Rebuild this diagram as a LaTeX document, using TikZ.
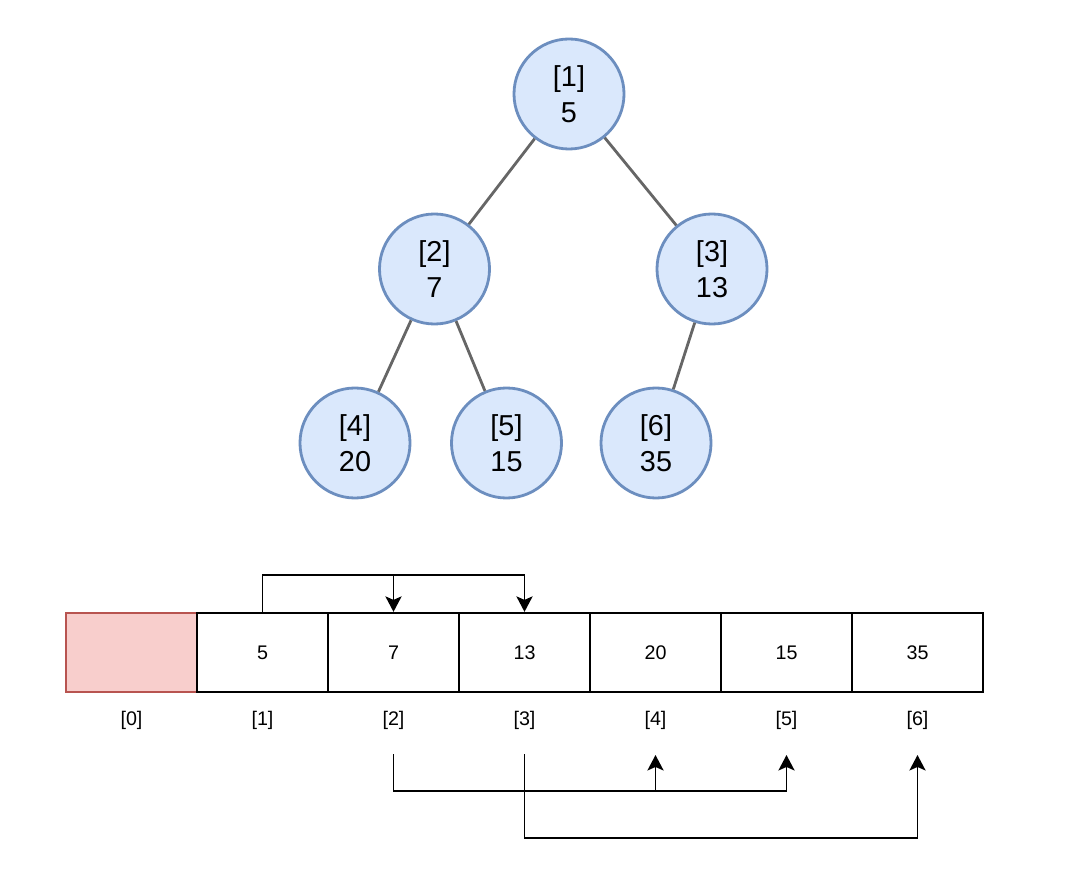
\documentclass[tikz,border=0pt]{standalone}
\usepackage{fontspec}
\setmainfont{Liberation Sans}
\usetikzlibrary{arrows.meta}

\definecolor{knotenblau}{HTML}{DAE8FC}
\definecolor{randblau}{HTML}{6C8EBF}
\definecolor{kantengrau}{HTML}{666666}
\definecolor{leerrot}{HTML}{F8CECC}
\definecolor{randrot}{HTML}{B85450}

\begin{document}
\begin{tikzpicture}[x=0.025cm,y=-0.025cm,
  knoten/.style={circle, draw=randblau, fill=knotenblau, line width=2pt,
    minimum size=2.75cm, inner sep=0pt, align=center,
    font=\fontsize{20.5}{25.5}\selectfont},
  kante/.style={draw=kantengrau, line width=2pt},
  zelle/.style={draw, line width=1.2pt, minimum width=3.275cm,
    minimum height=1.99cm, inner sep=0pt, font=\fontsize{14}{17}\selectfont},
  index/.style={font=\fontsize{14}{17}\selectfont},
  zeiger/.style={line width=1.3pt, -{Stealth[length=11pt, width=11.5pt, inset=2.5pt]}}]
  \useasboundingbox (0,0) rectangle (1070,878);

  % Baum
  \node[knoten] (n1) at (569,94) {[1]\\5};
  \node[knoten] (n2) at (434.5,269) {[2]\\7};
  \node[knoten] (n3) at (712,269) {[3]\\13};
  \node[knoten] (n4) at (355,443) {[4]\\20};
  \node[knoten] (n5) at (506.5,443) {[5]\\15};
  \node[knoten] (n6) at (656,443) {[6]\\35};

  % Kanten
  \draw[kante] (n1) -- (n2);
  \draw[kante] (n1) -- (n3);
  \draw[kante] (n2) -- (n4);
  \draw[kante] (n2) -- (n5);
  \draw[kante] (n3) -- (n6);

  % Array
  \node[zelle, draw=randrot, fill=leerrot] (c0) at (131.5,652.5) {};
  \node[zelle] (c1) at (262.5,652.5) {5};
  \node[zelle] (c2) at (393.5,652.5) {7};
  \node[zelle] (c3) at (524.5,652.5) {13};
  \node[zelle] (c4) at (655.5,652.5) {20};
  \node[zelle] (c5) at (786.5,652.5) {15};
  \node[zelle] (c6) at (917.5,652.5) {35};

  % Indizes
  \node[index] (i0) at (131.5,720) {[0]};
  \node[index] (i1) at (262.5,720) {[1]};
  \node[index] (i2) at (393.5,720) {[2]};
  \node[index] (i3) at (524.5,720) {[3]};
  \node[index] (i4) at (655.5,720) {[4]};
  \node[index] (i5) at (786.5,720) {[5]};
  \node[index] (i6) at (917.5,720) {[6]};

  % Pfeile oben
  \draw[zeiger] (c1.north) -- ++(0,-37) -| (c2.north);
  \draw[zeiger] (c1.north) -- ++(0,-37) -| (c3.north);

  % Pfeile unten
  \coordinate (b2) at (393.5,754);
  \coordinate (b3) at (524.5,754);
  \coordinate (a4) at (655.5,755);
  \coordinate (a5) at (786.5,755);
  \coordinate (a6) at (917.5,755);
  \draw[zeiger] (b2) -- ++(0,37) -| (a4);
  \draw[zeiger] (b2) -- ++(0,37) -| (a5);
  \draw[zeiger] (b3) -- ++(0,84) -| (a6);
\end{tikzpicture}
\end{document}
